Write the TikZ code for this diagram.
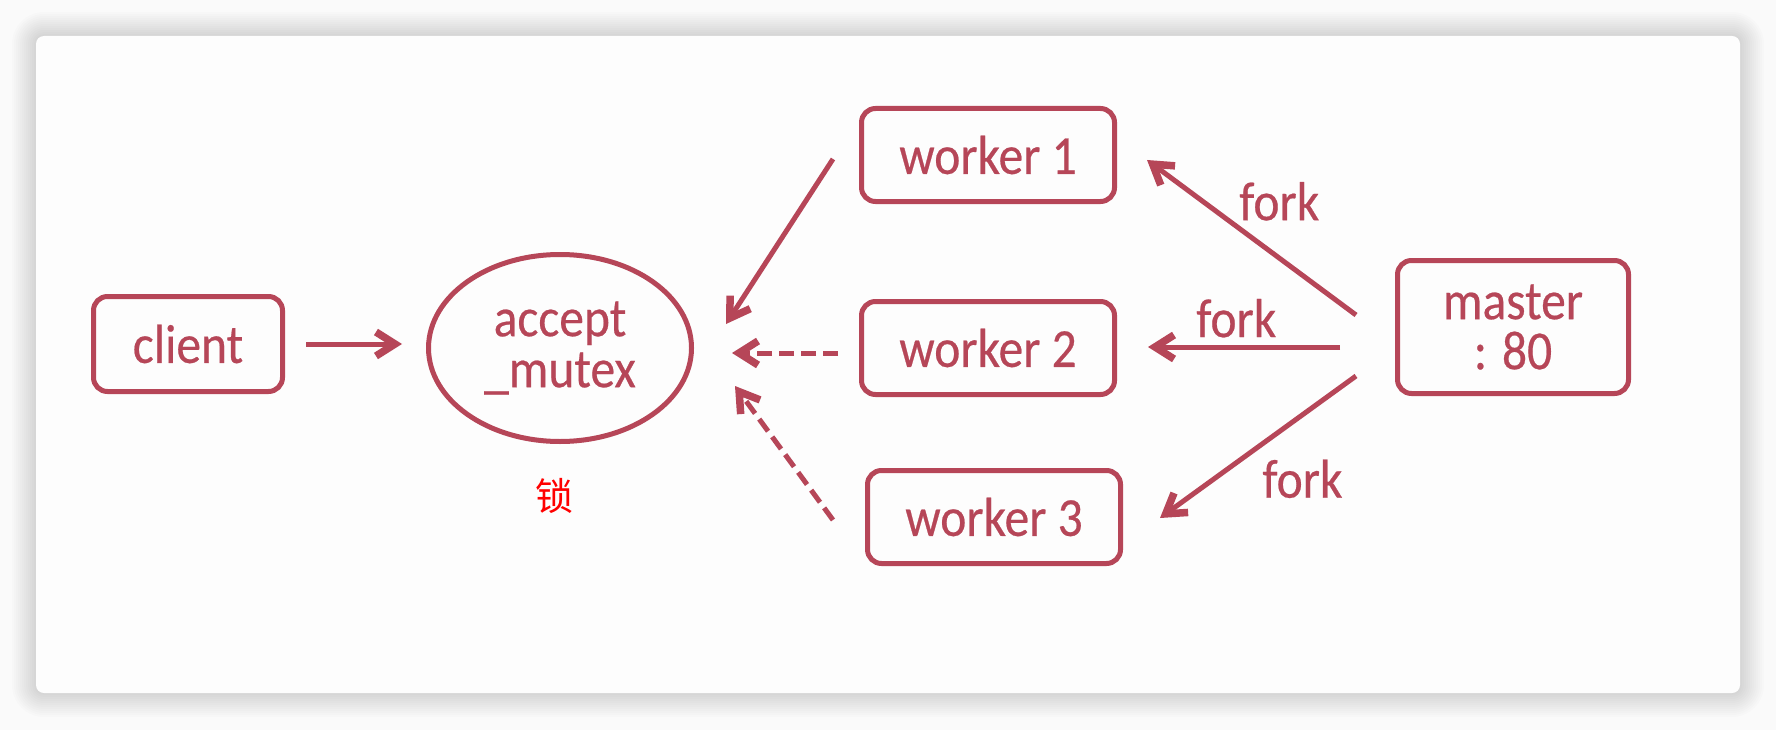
\documentclass[tikz,border=0pt]{standalone}
\usepackage{fontspec}
\setmainfont{Carlito}[FakeStretch=0.9, FakeBold=0.4]
\newfontfamily\cjk{Noto Sans CJK SC}
\usetikzlibrary{positioning,shapes.geometric,arrows.meta}
\definecolor{rose}{RGB}{182,70,88}
\definecolor{paper}{RGB}{253,253,253}
\tikzset{
  proc/.style={draw=rose, line width=5pt, rounded corners=14pt, text=rose,
    align=center, inner sep=0pt, font=\fontsize{55}{50}\selectfont},
  lock/.style={ellipse, draw=rose, line width=5pt, text=rose, align=center,
    inner sep=0pt, minimum width=263pt, minimum height=187pt,
    font=\fontsize{55}{51}\selectfont},
  flow/.style={draw=rose, line width=5pt,
    -{Straight Barb[length=19pt, width=24pt, line width=2.5pt 1]}},
  weak/.style={flow, dash pattern=on 15pt off 7pt},
  forklabel/.style={text=rose, inner sep=2pt, font=\fontsize{55}{50}\selectfont}
}

\begin{document}
\begin{tikzpicture}[x=1pt, y=-1pt]

  % Background and card
  \useasboundingbox (0,0) rectangle (1776,730);
  \fill[gray!4] (0,0) rectangle (1776,730);
  \foreach \s [evaluate=\s as \r using \s+8] in {2,4,...,24}
    \fill[black, opacity=0.011, rounded corners=\r pt]
      (36-\s,36-\s) rectangle (1740+\s,693+\s);
  \fill[paper, rounded corners=8pt] (36,36) rectangle (1740,693);

  % Define nodes
  \node[lock] (mutex) at (560,348) {accept\\\_mutex};
  \node[proc, minimum width=189pt, minimum height=95pt,
        left=141pt of mutex, yshift=4pt]            (client)  {client};
  \node[proc, minimum width=253pt, minimum height=93pt,
        right=165pt of mutex]                        (worker2) {worker 2};
  \node[proc, minimum width=253pt, minimum height=93pt,
        above=95pt of worker2]                       (worker1) {worker 1};
  \node[proc, minimum width=253pt, minimum height=93pt,
        below=71pt of worker2, xshift=6pt]           (worker3) {worker 3};
  \node[proc, minimum width=231pt, minimum height=133pt,
        right=278pt of worker2, yshift=21pt]         (master)  {master\\: 80};
  \node[text=red, inner sep=0pt, font=\cjk\fontsize{38}{38}\selectfont,
        below=34pt of mutex, xshift=-6pt]            (lockmark) {锁};

  % Connect the nodes
  \draw[flow] ([xshift=21pt]client.east) -- ([xshift=-24pt, yshift=4pt]mutex.west);
  \draw[flow] ([xshift=-26pt, yshift=-4pt]worker1.west) -- ([xshift=32pt, yshift=24pt]mutex.east);
  \draw[weak] ([xshift=-21pt, yshift=-5pt]worker2.west) -- ([xshift=38pt, yshift=-5pt]mutex.east);
  \draw[weak] ([xshift=-32pt, yshift=-3pt]worker3.west) -- ([xshift=41pt, yshift=-38pt]mutex.east);

  % Forks
  \draw[flow] ([xshift=-39pt, yshift=12pt]master.west) -- ([xshift=30pt, yshift=-5pt]worker1.east)
    node[forklabel, pos=0.58, anchor=south west] (fork1) {fork};
  \draw[flow] ([xshift=-55pt, yshift=-20pt]master.west) -- ([xshift=31pt, yshift=1pt]worker2.east)
    node[forklabel, pos=0.54, anchor=south, yshift=5pt] (fork2) {fork};
  \draw[flow] ([xshift=-39pt, yshift=-49pt]master.west) -- ([xshift=37pt, yshift=-1pt]worker3.east)
    node[forklabel, pos=0.5, anchor=north west, yshift=-8pt] (fork3) {fork};

\end{tikzpicture}
\end{document}
